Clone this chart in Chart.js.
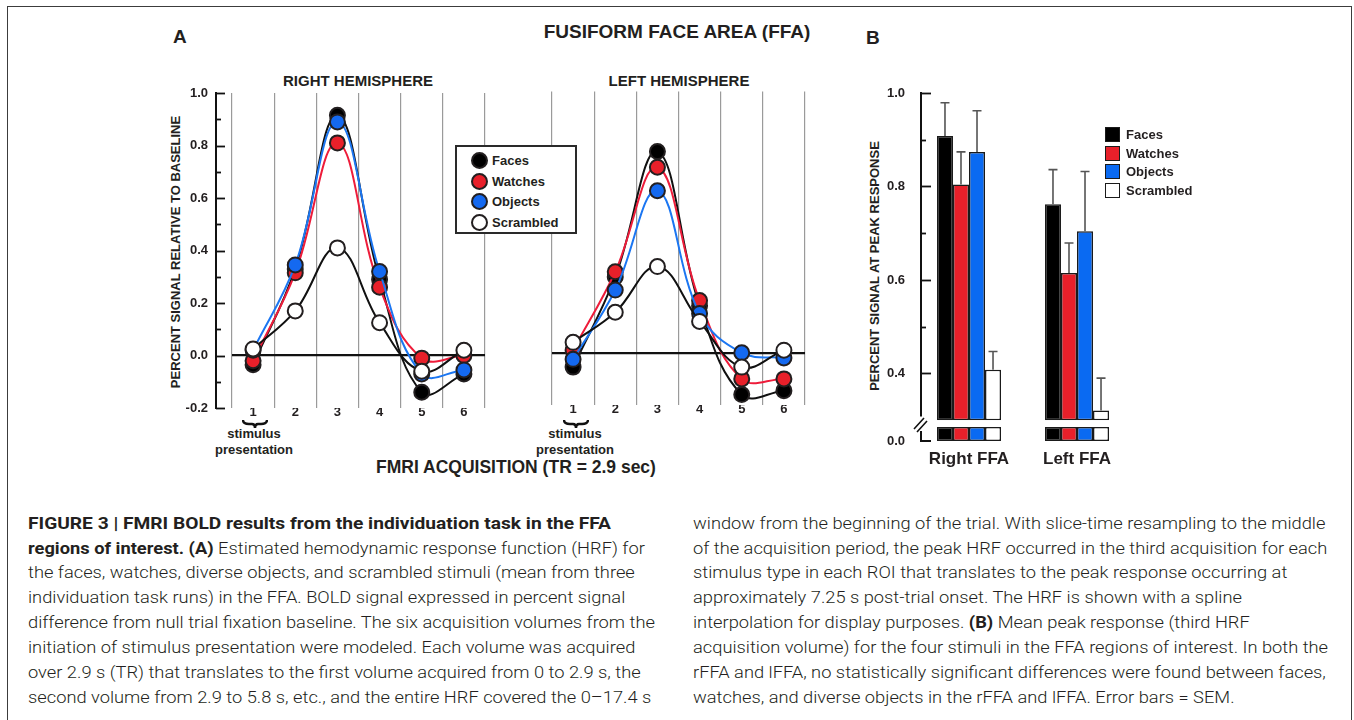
<!DOCTYPE html>
<html>
<head>
<meta charset="utf-8">
<script src="https://cdn.jsdelivr.net/npm/chart.js@4.4.0/dist/chart.umd.min.js"></script>
<style>
html,body{margin:0;padding:0;background:#fff;}
body{width:1354px;height:720px;position:relative;overflow:hidden;font-family:"Liberation Sans",Arial,Helvetica,sans-serif;color:#231f20;}
.abs{position:absolute;white-space:nowrap;}
.b{font-weight:bold;}
.ctr{text-align:center;}
canvas{position:absolute;}
#frame{position:absolute;left:7px;top:6px;width:1343px;height:760px;border:1.5px solid #3c3c3c;}
.rot{position:absolute;transform:rotate(-90deg);text-align:center;font-weight:bold;white-space:nowrap;}
.legA{position:absolute;left:455px;top:145px;width:118px;height:85px;border:2px solid #2a2a2a;background:#fff;}
.legA .it{position:absolute;left:0;height:20px;line-height:20px;font-size:13px;font-weight:bold;}
.legA .dot{position:absolute;left:14px;width:13px;height:13px;border-radius:50%;border:2px solid #231f20;}
.legA .tx{position:absolute;left:35px;}
.legB .sq{position:absolute;width:13px;height:13px;border:1.5px solid #1a1a1a;}
.legB .tx{position:absolute;font-size:13px;font-weight:bold;line-height:18px;}
.cap{position:absolute;white-space:nowrap;font-family:Roboto,"Liberation Sans",Arial,sans-serif;font-weight:300;font-size:17px;line-height:22px;color:#231f20;transform-origin:0 50%;}
.cap b{font-weight:700;}
</style>
</head>
<body>
<div id="frame"></div>

<div class="abs b" style="left:173px;top:26px;font-size:19px;line-height:22px;">A</div>
<div class="abs b" style="left:866px;top:27px;font-size:19px;line-height:22px;">B</div>
<div class="abs b ctr" style="left:477px;width:400px;top:21px;font-size:19px;line-height:22px;">FUSIFORM FACE AREA (FFA)</div>
<div class="abs b ctr" style="left:208px;width:300px;top:72px;font-size:15px;line-height:18px;">RIGHT HEMISPHERE</div>
<div class="abs b ctr" style="left:529px;width:300px;top:72px;font-size:15px;line-height:18px;">LEFT HEMISPHERE</div>
<div class="abs b ctr" style="left:316px;width:400px;top:456px;font-size:17.5px;line-height:22px;">FMRI ACQUISITION (TR = 2.9 sec)</div>

<div class="rot" style="left:16px;top:244px;width:320px;height:16px;line-height:16px;font-size:13px;">PERCENT SIGNAL RELATIVE TO BASELINE</div>
<div class="rot" style="left:715px;top:258px;width:320px;height:16px;line-height:16px;font-size:13px;">PERCENT SIGNAL AT PEAK RESPONSE</div>

<!-- stimulus presentation annotations -->
<svg class="abs" style="left:242px;top:419px;" width="26" height="10"><path d="M1,1 Q1,5 7,5 L10,5 Q13,5 13,9 Q13,5 16,5 L19,5 Q25,5 25,1" fill="none" stroke="#111" stroke-width="2.4"/></svg>
<div class="abs b ctr" style="left:194px;width:120px;top:426px;font-size:13px;line-height:16px;">stimulus<br>presentation</div>
<svg class="abs" style="left:563px;top:419px;" width="26" height="10"><path d="M1,1 Q1,5 7,5 L10,5 Q13,5 13,9 Q13,5 16,5 L19,5 Q25,5 25,1" fill="none" stroke="#111" stroke-width="2.4"/></svg>
<div class="abs b ctr" style="left:515px;width:120px;top:426px;font-size:13px;line-height:16px;">stimulus<br>presentation</div>

<canvas id="hrfRight" width="335" height="379" style="left:160px;top:61px;"></canvas>
<canvas id="hrfLeft" width="275" height="346" style="left:540px;top:82px;"></canvas>
<canvas id="peakTop" width="280" height="350" style="left:860px;top:80px;"></canvas>
<canvas id="peakStub" width="280" height="60" style="left:860px;top:417px;"></canvas>

<div class="legA" id="legA"></div>
<div class="legB" id="legB"></div>

<!-- caption -->
<div class="cap" id="capBold" style="left:28px;top:512px;"><b>FIGURE 3 | FMRI BOLD results from the individuation task in the FFA</b></div>
<div class="cap" style="left:28px;top:537px;"><b>regions of interest. (A)</b> Estimated hemodynamic response function (HRF) for</div>
<div class="cap" style="left:28px;top:561px;">the faces, watches, diverse objects, and scrambled stimuli (mean from three</div>
<div class="cap" style="left:28px;top:586px;">individuation task runs) in the FFA. BOLD signal expressed in percent signal</div>
<div class="cap" id="capRef" style="left:28px;top:611px;">difference from null trial fixation baseline. The six acquisition volumes from the</div>
<div class="cap" style="left:28px;top:636px;">initiation of stimulus presentation were modeled. Each volume was acquired</div>
<div class="cap" style="left:28px;top:661px;">over 2.9 s (TR) that translates to the first volume acquired from 0 to 2.9 s, the</div>
<div class="cap" style="left:28px;top:686px;">second volume from 2.9 to 5.8 s, etc., and the entire HRF covered the 0–17.4 s</div>

<div class="cap" style="left:693px;top:512px;">window from the beginning of the trial. With slice-time resampling to the middle</div>
<div class="cap" style="left:693px;top:537px;">of the acquisition period, the peak HRF occurred in the third acquisition for each</div>
<div class="cap" style="left:693px;top:561px;">stimulus type in each ROI that translates to the peak response occurring at</div>
<div class="cap" style="left:693px;top:586px;">approximately 7.25 s post-trial onset. The HRF is shown with a spline</div>
<div class="cap" style="left:693px;top:611px;">interpolation for display purposes. <b>(B)</b> Mean peak response (third HRF</div>
<div class="cap" style="left:693px;top:636px;">acquisition volume) for the four stimuli in the FFA regions of interest. In both the</div>
<div class="cap" style="left:693px;top:661px;">rFFA and lFFA, no statistically significant differences were found between faces,</div>
<div class="cap" style="left:693px;top:686px;">watches, and diverse objects in the rFFA and lFFA. Error bars = SEM.</div>

<script>
// ---------------- DATA ----------------
const seriesNames = ['Faces', 'Watches', 'Objects', 'Scrambled'];

// Panel A: HRF, acquisition volumes 1..6
const hrfLabels = ['1', '2', '3', '4', '5', '6'];
const rightFaces     = [-0.035, 0.33, 0.915, 0.29, -0.14, -0.07];
const rightWatches   = [-0.02, 0.315, 0.81, 0.26, -0.01, 0.0];
const rightObjects   = [0.02, 0.345, 0.89, 0.32, -0.07, -0.055];
const rightScrambled = [0.025, 0.17, 0.41, 0.125, -0.06, 0.02];
const leftFaces      = [-0.055, 0.29, 0.77, 0.18, -0.16, -0.145];
const leftWatches    = [0.01, 0.31, 0.71, 0.20, -0.10, -0.10];
const leftObjects    = [-0.025, 0.24, 0.62, 0.15, 0.0, -0.02];
const leftScrambled  = [0.04, 0.155, 0.33, 0.12, -0.055, 0.01];
const hrfMin = -0.2, hrfMax = 1.0, hrfStep = 0.1;

// Panel B: peak response (third volume), with SEM
const roiLabels = ['Right FFA', 'Left FFA'];
const peakFaces     = [0.908, 0.762];
const peakWatches   = [0.804, 0.615];
const peakObjects   = [0.874, 0.704];
const peakScrambled = [0.408, 0.321];
const semFaces      = [0.071, 0.074];
const semWatches    = [0.070, 0.064];
const semObjects    = [0.088, 0.128];
const semScrambled  = [0.039, 0.069];
const peakMin = 0.3, peakMax = 1.0, peakStep = 0.1;
const stubMin = 0.0, stubMax = 0.03;

// ---------------- STYLE ----------------
const FONT = '"Liberation Sans", Arial, Helvetica, sans-serif';
const INK = '#231f20';
const pointFill = ['#000000', '#e8202a', '#1469f0', '#ffffff'];
const lineColor = ['#111111', '#ee1c3a', '#1b76f2', '#111111'];
const barFill   = ['#000000', '#e8202a', '#0a6af2', '#ffffff'];
Chart.defaults.font.family = FONT;
Chart.defaults.color = INK;

function tenthLabel(v) {
  if (Math.round(v * 10) % 2 !== 0) return '';
  return Math.abs(v) < 1e-9 ? '0.0' : v.toFixed(1);
}

// Legends (HTML)
const legA = document.getElementById('legA');
const legB = document.getElementById('legB');
seriesNames.forEach((n, i) => {
  const it = document.createElement('div');
  it.className = 'it';
  it.style.top = (4 + i * 20.5) + 'px';
  it.style.width = '118px';
  it.innerHTML = '<span class="dot" style="top:1px;background:' + pointFill[i] + '"></span><span class="tx">' + n + '</span>';
  legA.appendChild(it);
  const sq = document.createElement('div');
  sq.className = 'sq';
  sq.style.left = '1105px';
  sq.style.top = (127 + i * 18.5) + 'px';
  sq.style.background = barFill[i];
  legB.appendChild(sq);
  const tx = document.createElement('div');
  tx.className = 'tx';
  tx.style.left = '1126px';
  tx.style.top = (126 + i * 18.5) + 'px';
  tx.textContent = n;
  legB.appendChild(tx);
});

// ---------------- PLUGINS ----------------
const sideAxis = {
  id: 'sideAxis',
  afterDraw(chart, args, opts) {
    if (!opts || !opts.enabled) return;
    const ctx = chart.ctx, area = chart.chartArea, ys = chart.scales.y;
    const x0 = area.left - opts.gap;
    ctx.save();
    ctx.strokeStyle = '#111';
    ctx.lineWidth = 2;
    ctx.lineCap = 'square';
    ctx.beginPath();
    ctx.moveTo(x0, ys.getPixelForValue(opts.from));
    ctx.lineTo(x0, ys.getPixelForValue(opts.to));
    ctx.stroke();
    ctx.lineCap = 'butt';
    ctx.lineWidth = 1.8;
    ys.ticks.forEach(t => {
      if (t.value < opts.tickMin - 1e-9) return;
      const major = Math.round(t.value * 10) % 2 === 0;
      const py = Math.round(ys.getPixelForValue(t.value)) + 0.5;
      ctx.beginPath();
      ctx.moveTo(x0, py);
      ctx.lineTo(x0 + (major ? opts.major : opts.minor), py);
      ctx.stroke();
    });
    ctx.restore();
  }
};

const errorBars = {
  id: 'errorBars',
  afterDatasetsDraw(chart) {
    const ctx = chart.ctx, ys = chart.scales.y;
    chart.data.datasets.forEach((ds, i) => {
      if (!ds.sem) return;
      const meta = chart.getDatasetMeta(i);
      meta.data.forEach((bar, j) => {
        const top = ys.getPixelForValue(ds.data[j] + ds.sem[j]);
        ctx.save();
        ctx.strokeStyle = '#555';
        ctx.lineWidth = 1.6;
        ctx.beginPath();
        ctx.moveTo(bar.x, bar.y);
        ctx.lineTo(bar.x, top);
        ctx.moveTo(bar.x - 4.5, top);
        ctx.lineTo(bar.x + 4.5, top);
        ctx.stroke();
        ctx.restore();
      });
    });
  }
};

const breakAxis = {
  id: 'breakAxis',
  afterDraw(chart) {
    const ctx = chart.ctx, area = chart.chartArea, ys = chart.scales.y;
    const x0 = area.left + 6;
    const y0 = ys.getPixelForValue(stubMin);
    ctx.save();
    ctx.strokeStyle = '#111';
    ctx.lineWidth = 2;
    ctx.beginPath();
    ctx.moveTo(x0, area.top + 4);
    ctx.lineTo(x0, y0);
    ctx.lineTo(x0 + 10, y0);
    ctx.stroke();
    ctx.lineWidth = 1.6;
    ctx.beginPath();
    ctx.moveTo(x0 - 7, area.top + 2);
    ctx.lineTo(x0 + 3, area.top - 9);
    ctx.moveTo(x0 - 4, area.top + 5);
    ctx.lineTo(x0 + 6, area.top - 6);
    ctx.stroke();
    ctx.restore();
  }
};

// ---------------- PANEL A ----------------
function hrfDatasets(f, w, o, s) {
  return [f, w, o, s].map((data, i) => ({
    label: seriesNames[i],
    data: data,
    borderColor: lineColor[i],
    backgroundColor: pointFill[i],
    pointBackgroundColor: pointFill[i],
    pointBorderColor: INK,
    pointBorderWidth: 2,
    pointRadius: 7.5,
    borderWidth: 2,
    tension: 0.4,
    fill: false,
    order: 4 - i
  }));
}

function hrfOptions(showAxis, yWidth, xHeight, pad) {
  return {
    responsive: false,
    animation: false,
    events: [],
    layout: { padding: pad },
    plugins: {
      legend: { display: false },
      tooltip: { enabled: false },
      sideAxis: { enabled: showAxis, gap: 16, from: hrfMax, to: hrfMin, tickMin: hrfMin, major: 9, minor: 5 }
    },
    scales: {
      x: {
        type: 'category',
        offset: true,
        grid: { offset: true, color: '#9a9a9a', lineWidth: 1.2, drawTicks: false },
        border: { display: false },
        ticks: { font: { weight: 'bold', size: 13 }, color: INK, padding: -3 },
        afterFit: s => { s.height = xHeight; }
      },
      y: {
        min: hrfMin,
        max: hrfMax,
        ticks: {
          stepSize: hrfStep,
          display: showAxis,
          padding: 24,
          font: { weight: 'bold', size: 13 },
          color: INK,
          callback: tenthLabel
        },
        grid: {
          drawTicks: false,
          color: c => (Math.abs(c.tick.value) < 1e-9 ? '#111' : 'rgba(0,0,0,0)'),
          lineWidth: c => (Math.abs(c.tick.value) < 1e-9 ? 2.2 : 0)
        },
        border: { display: false },
        afterFit: s => { s.width = yWidth; }
      }
    }
  };
}

new Chart(document.getElementById('hrfRight'), {
  type: 'line',
  data: { labels: hrfLabels, datasets: hrfDatasets(rightFaces, rightWatches, rightObjects, rightScrambled) },
  options: hrfOptions(true, 72, 32, { left: 0, top: 32, right: 10, bottom: 0 }),
  plugins: [sideAxis]
});

new Chart(document.getElementById('hrfLeft'), {
  type: 'line',
  data: { labels: hrfLabels, datasets: hrfDatasets(leftFaces, leftWatches, leftObjects, leftScrambled) },
  options: hrfOptions(false, 0, 23, { left: 12, top: 8, right: 10, bottom: 0 }),
  plugins: [sideAxis]
});

// ---------------- PANEL B ----------------
const peaks = [peakFaces, peakWatches, peakObjects, peakScrambled];
const sems = [semFaces, semWatches, semObjects, semScrambled];

function barDatasets(stub) {
  return peaks.map((data, i) => ({
    label: seriesNames[i],
    data: stub ? data.map(v => Math.min(v, stubMax)) : data,
    sem: stub ? null : sems[i],
    base: stub ? stubMin : peakMin,
    backgroundColor: barFill[i],
    borderColor: '#1a1a1a',
    borderWidth: 1.5,
    borderSkipped: false,
    categoryPercentage: 0.593,
    barPercentage: 1.0
  }));
}

new Chart(document.getElementById('peakTop'), {
  type: 'bar',
  data: { labels: roiLabels, datasets: barDatasets(false) },
  options: {
    responsive: false,
    animation: false,
    events: [],
    layout: { padding: { left: 0, top: 13, right: 9, bottom: 8 } },
    plugins: {
      legend: { display: false },
      tooltip: { enabled: false },
      sideAxis: { enabled: true, gap: -6, from: peakMax, to: 0.31, tickMin: 0.35, major: 10, minor: 5 }
    },
    scales: {
      x: { display: false, offset: true },
      y: {
        min: peakMin,
        max: peakMax,
        ticks: {
          stepSize: peakStep,
          padding: 2,
          font: { weight: 'bold', size: 13 },
          color: INK,
          callback: tenthLabel
        },
        grid: { display: false },
        border: { display: false },
        afterFit: s => { s.width = 55; }
      }
    }
  },
  plugins: [sideAxis, errorBars]
});

new Chart(document.getElementById('peakStub'), {
  type: 'bar',
  data: { labels: roiLabels, datasets: barDatasets(true) },
  options: {
    responsive: false,
    animation: false,
    events: [],
    layout: { padding: { left: 0, top: 10, right: 9, bottom: 0 } },
    plugins: { legend: { display: false }, tooltip: { enabled: false } },
    scales: {
      x: {
        offset: true,
        grid: { display: false },
        border: { display: false },
        ticks: { font: { weight: 'bold', size: 17 }, color: INK, padding: 0 },
        afterFit: s => { s.height = 36; }
      },
      y: {
        min: stubMin,
        max: stubMax,
        ticks: {
          stepSize: stubMax - stubMin,
          padding: 2,
          font: { weight: 'bold', size: 13 },
          color: INK,
          callback: v => (Math.abs(v - stubMin) < 1e-9 ? stubMin.toFixed(1) : '')
        },
        grid: { display: false },
        border: { display: false },
        afterFit: s => { s.width = 55; }
      }
    }
  },
  plugins: [breakAxis]
});

// ---------------- CAPTION WIDTH FIT ----------------
function fitCaption() {
  const ref = document.getElementById('capRef');
  const bold = document.getElementById('capBold');
  const natural = ref.offsetWidth;
  if (!natural) return;
  const s = 627 / natural;
  document.querySelectorAll('.cap').forEach(el => { el.style.transform = 'scaleX(' + s + ')'; });
  if (bold.offsetWidth) bold.style.transform = 'scaleX(' + (583 / bold.offsetWidth) + ')';
}
fitCaption();
if (document.fonts && document.fonts.ready) document.fonts.ready.then(fitCaption);
</script>
</body>
</html>
